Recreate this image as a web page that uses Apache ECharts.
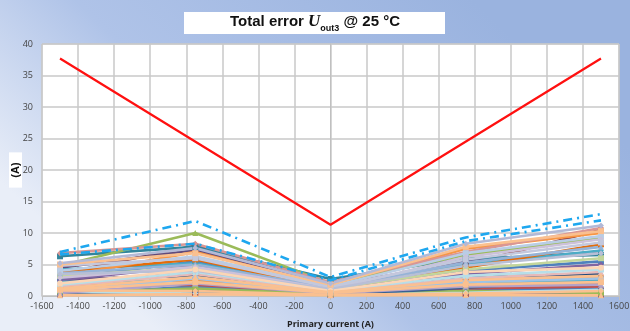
<!DOCTYPE html>
<html>
<head>
<meta charset="utf-8">
<script src="https://cdn.jsdelivr.net/npm/echarts@6/dist/echarts.min.js"></script>
<style>html,body{margin:0;padding:0;}#c{width:630px;height:331px;}</style>
</head>
<body>
<div id="c"></div>
<script>
// ---- data ----
const currents = [-1500, -750, 0, 750, 1500];
const xTicks = { min: -1600, max: 1600, step: 200 };
const yTicks = { min: 0, max: 40, step: 5 };

const limitX = [-1500, 0, 1500];
const limitY = [37.7, 11.3, 37.7];

const dashA = [7.0, 11.9, 3.0, 9.3, 13.0];
const dashB = [6.6, 8.3, 2.5, 8.7, 12.0];

const s01 = [6.3, 7.8, 2.7, 6.0, 6.5];
const s02 = [6.8, 8.3, 2.2, 7.0, 10.8];
const s03 = [4.8, 10.0, 2.0, 6.5, 9.2];
const s04 = [3.5, 8.0, 1.8, 5.0, 10.5];
const s05 = [3.0, 7.0, 1.5, 7.5, 10.0];
const s06 = [4.5, 7.3, 1.6, 5.5, 7.0];
const s07 = [5.2, 7.6, 2.0, 8.3, 11.2];
const s08 = [5.0, 6.8, 1.8, 7.8, 10.3];
const s09 = [4.0, 6.3, 1.5, 6.8, 9.5];
const s10 = [4.8, 6.0, 1.4, 5.8, 8.5];
const s11 = [3.8, 5.8, 1.2, 4.5, 8.2];
const s12 = [2.8, 5.5, 1.0, 4.0, 5.5];
const s13 = [4.2, 5.2, 1.3, 5.0, 7.2];
const s14 = [2.5, 4.8, 1.0, 3.5, 5.0];
const s15 = [3.2, 4.5, 1.2, 4.2, 6.0];
const s16 = [2.0, 4.2, 0.8, 3.8, 4.5];
const s17 = [1.8, 3.8, 0.9, 3.2, 4.2];
const s18 = [3.5, 4.0, 1.1, 4.8, 6.8];
const s19 = [1.5, 3.5, 0.7, 2.8, 3.8];
const s20 = [2.6, 3.2, 0.8, 3.0, 3.5];
const s21 = [1.2, 3.0, 0.6, 2.5, 3.2];
const s22 = [0.8, 2.8, 0.5, 2.2, 2.8];
const s23 = [2.2, 2.5, 0.6, 2.0, 2.5];
const s24 = [1.0, 2.2, 0.5, 1.8, 2.2];
const s25 = [0.5, 2.0, 0.4, 1.5, 1.8];
const s26 = [1.6, 1.8, 0.5, 1.2, 1.5];
const s27 = [0.3, 1.5, 0.3, 1.0, 1.2];
const s28 = [0.6, 1.2, 0.3, 0.8, 0.5];
const s29 = [0.2, 1.0, 0.2, 0.6, 0.3];
const s30 = [0.9, 0.8, 0.2, 0.4, 0.8];
const s31 = [0.4, 0.5, 0.2, 0.3, 0.2];
const s32 = [0.1, 0.3, 0.1, 0.2, 0.1];
const s33 = [2.9, 4.6, 1.1, 6.2, 9.0];
const s34 = [3.6, 5.0, 1.3, 5.3, 7.8];
const s35 = [0.7, 0.4, 0.1, 0.5, 1.0];
const s36 = [1.4, 2.6, 0.6, 2.6, 3.0];
const s37 = [2.4, 3.6, 0.9, 1.6, 2.0];
const s38 = [0.2, 0.6, 0.1, 1.3, 2.6];

const solidSeries = [
  [s20, '#1f497d'], [s31, '#953735'], [s37, '#604a7b'], [s27, '#4f81bd'], [s29, '#8064a2'],
  [s12, '#4f81bd'], [s14, '#8064a2'], [s26, '#c0504d'], [s28, '#9bbb59'], [s38, '#376092'],
  [s04, '#953735'], [s06, '#604a7b'], [s01, '#31859c'], [s13, '#4bacc6'], [s23, '#4bacc6'],
  [s11, '#e46c0a'], [s05, '#f79646'], [s36, '#f79646'], [s03, '#9bbb59'], [s15, '#c3d69b'],
  [s02, '#d99694'], [s19, '#e6b9b8'], [s17, '#b7dee8'], [s35, '#b7dee8'], [s22, '#9dc3e6'],
  [s34, '#95b3d7'], [s09, '#b9cde5'], [s33, '#ccc1da'], [s25, '#b3a2c7'], [s10, '#c3c8dd'],
  [s18, '#b8bfd6'], [s16, '#fcd5b5'], [s21, '#fac090'], [s24, '#fac090'], [s30, '#fac090'],
  [s32, '#fac090'], [s08, '#fac090'], [s07, '#b3b9d6']
];
const symbols = ['triangle', 'rect', 'diamond', 'circle', 'triangle', 'rect', 'diamond'];

const chart = echarts.init(document.getElementById('c'));
const pairs = (xs, ys) => xs.map((x, i) => [x, ys[i]]);

const series = [];
solidSeries.forEach(([vals, color], i) => {
  series.push({
    type: 'line', data: pairs(currents, vals), color: color,
    lineStyle: { width: 2.6, color: color },
    symbol: symbols[i % symbols.length], symbolSize: 6,
    itemStyle: { color: color }, z: 2, silent: true
  });
});
series.push({
  type: 'line', data: pairs(currents, dashB), symbol: 'none',
  lineStyle: { width: 2.6, color: '#1ea7ef', type: [9, 5, 2, 5] }, z: 3
});
series.push({
  type: 'line', data: pairs(currents, dashA), symbol: 'none',
  lineStyle: { width: 2.6, color: '#1ea7ef', type: [9, 5, 2, 5] }, z: 3
});
series.push({
  type: 'line', data: pairs(limitX, limitY), symbol: 'none',
  lineStyle: { width: 2.2, color: '#ff1010' }, z: 4
});

chart.setOption({
  animation: false,
  backgroundColor: {
    type: 'linear', x: 0.75, y: 0, x2: 0.25, y2: 1,
    colorStops: [{ offset: 0, color: '#9ab3df' }, { offset: 0.6, color: '#afc3e8' }, { offset: 1, color: '#e9eef8' }]
  },
  graphic: [{
    type: 'rect', shape: { x: 184, y: 12, width: 261, height: 22 },
    style: { fill: '#ffffff' }, z: 10
  }],
  title: {
    left: 'center', top: 11, padding: 0,
    text: '{a|Total error }{u|U}{s|out3}{a| @ 25 °C}',
    textStyle: {
      rich: {
        a: { fontFamily: 'Liberation Sans', fontWeight: 'bold', fontSize: 15, color: '#111', lineHeight: 22 },
        u: { fontFamily: 'Liberation Serif', fontStyle: 'italic', fontSize: 17, color: '#111', lineHeight: 22 },
        s: { fontFamily: 'Liberation Sans', fontWeight: 'bold', fontSize: 9, color: '#111', lineHeight: 22, verticalAlign: 'bottom', padding: [6, 0, 0, 0] }
      }
    },
    z: 11
  },
  grid: { left: 42, right: 11, top: 44, bottom: 35, outerBoundsMode: 'none', containLabel: false, show: true, backgroundColor: '#ffffff', borderColor: '#c8c8c8', borderWidth: 1 },
  xAxis: {
    type: 'value', min: xTicks.min, max: xTicks.max, interval: xTicks.step,
    name: 'Primary current (A)', nameLocation: 'middle', nameGap: 24,
    nameTextStyle: { fontFamily: 'Open Sans', fontWeight: 'bold', fontSize: 9, color: '#222' },
    axisLine: { onZero: false, lineStyle: { color: '#c0c0c0', width: 1 } },
    axisTick: { show: true, length: 4, lineStyle: { color: '#c0c0c0' } },
    axisLabel: { fontFamily: 'Open Sans', fontSize: 9, color: '#444', margin: 6, formatter: v => String(v) },
    splitLine: { lineStyle: { color: '#c8c8c8', width: 1.5 } }
  },
  yAxis: {
    type: 'value', min: yTicks.min, max: yTicks.max, interval: yTicks.step,
    name: '(A)', nameLocation: 'middle', nameRotate: 90, nameGap: 20, nameMoveOverlap: false,
    nameTextStyle: { fontFamily: 'Liberation Sans', fontWeight: 'bold', fontSize: 11, color: '#111', backgroundColor: '#ffffff', padding: [1, 10, 1, 10] },
    axisLine: { show: true, lineStyle: { color: '#c0c0c0' } },
    axisTick: { show: false },
    axisLabel: { fontFamily: 'Open Sans', fontSize: 9, color: '#444', margin: 9, formatter: v => String(v) },
    splitLine: { lineStyle: { color: '#c8c8c8', width: 1.5 } }
  },
  series: series
});
</script>
</body>
</html>
